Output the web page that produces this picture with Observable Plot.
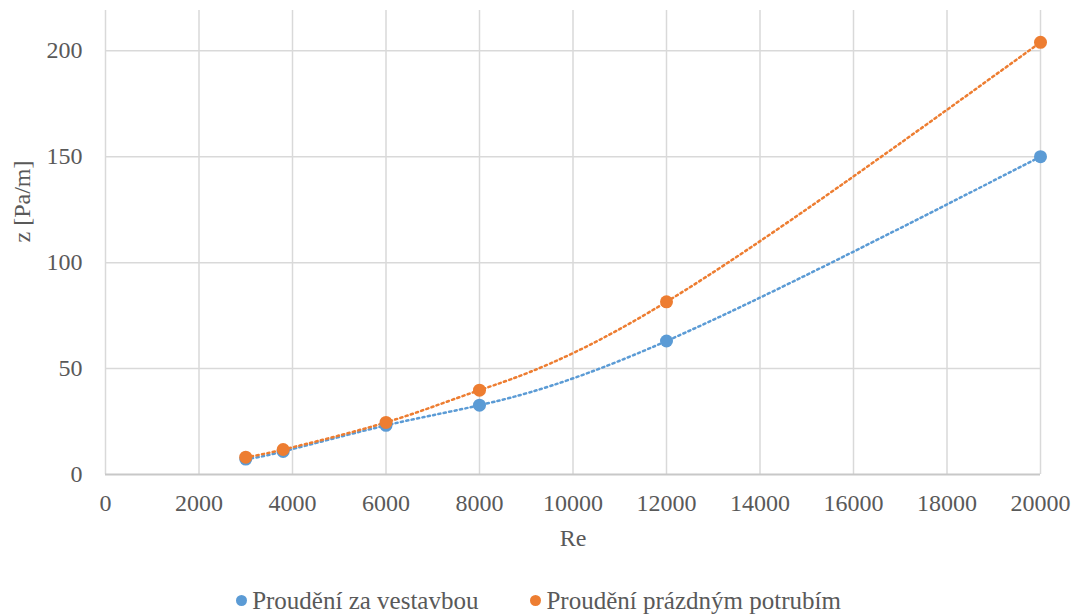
<!DOCTYPE html>
<html>
<head>
<meta charset="utf-8">
<script src="https://cdn.jsdelivr.net/npm/d3@7"></script>
<script src="https://cdn.jsdelivr.net/npm/@observablehq/plot@0.6"></script>
<style>
  html, body { margin: 0; padding: 0; background: #fff; }
  body { font-family: "Liberation Serif", "Times New Roman", serif; }
  #chart { width: 1077px; }
  #chart svg text { font-family: "Liberation Serif", "Times New Roman", serif; }
</style>
</head>
<body>
<div id="chart"></div>
<div id="legend" style="width:1077px;height:45px;display:flex;justify-content:center;align-items:center;gap:52px;font-family:'Liberation Serif';font-size:25px;color:#595959;"></div>
<script>
const re = [3000, 3800, 6000, 8000, 12000, 20000];
const zVestavba = [7.3, 10.9, 23.2, 32.7, 63, 150];
const zPrazdne = [8.2, 11.8, 24.6, 39.8, 81.5, 204];
const seriesNames = ["Proudění za vestavbou", "Proudění prázdným potrubím"];
const seriesColors = ["#5B9BD5", "#ED7D31"];
const xTicks = [0, 2000, 4000, 6000, 8000, 10000, 12000, 14000, 16000, 18000, 20000];
const yTicks = [0, 50, 100, 150, 200];

const data = [];
re.forEach((r, i) => {
  data.push({re: r, z: zVestavba[i], s: seriesNames[0]});
  data.push({re: r, z: zPrazdne[i], s: seriesNames[1]});
});

const serif = "Liberation Serif";
const txt = "#595959";
const plot = Plot.plot({
  width: 1077,
  height: 578,
  marginLeft: 105,
  marginRight: 37,
  marginTop: 10,
  marginBottom: 104,
  style: {fontFamily: serif, fontSize: "24px", color: txt, background: "#fff"},
  x: {domain: [0, 20000], ticks: xTicks, label: null},
  y: {domain: [0, 219], ticks: yTicks, label: null},
  color: {domain: seriesNames, range: seriesColors},
  marks: [
    Plot.gridX(xTicks, {stroke: "#d9d9d9", strokeOpacity: 1, strokeWidth: 1.5, y1: 0, y2: 219}),
    Plot.gridY(yTicks.slice(1), {stroke: "#d9d9d9", strokeOpacity: 1, strokeWidth: 1.5}),
    Plot.ruleY([0], {stroke: "#c8c8c8", strokeWidth: 2}),
    Plot.axisX(xTicks, {tickSize: 0, tickPadding: 19, tickFormat: d => String(d), fontSize: 24, fontFamily: serif, fill: txt}),
    Plot.axisY(yTicks, {tickSize: 0, tickPadding: 23, tickFormat: d => String(d), fontSize: 24, fontFamily: serif, fill: txt}),
    Plot.text(["Re"], {x: 10000, y: 0, dy: 64, fontSize: 24, fontFamily: serif, fill: txt, lineAnchor: "middle"}),
    Plot.text(["z [Pa/m]"], {frameAnchor: "left", dx: -83, rotate: -90, fontSize: 24, fontFamily: serif, fill: txt}),
    Plot.line(data, {x: "re", y: "z", z: "s", stroke: "s", curve: "natural", strokeWidth: 2.5, strokeDasharray: "2.2 3.3"}),
    Plot.dot(data, {x: "re", y: "z", fill: "s", r: 6.5})
  ]
});
document.getElementById("chart").appendChild(plot);

const legend = document.getElementById("legend");
seriesNames.forEach((n, i) => {
  const item = document.createElement("span");
  item.style.display = "inline-flex";
  item.style.alignItems = "center";
  const dot = document.createElement("span");
  dot.style.display = "inline-block";
  dot.style.width = "11px";
  dot.style.height = "11px";
  dot.style.borderRadius = "50%";
  dot.style.marginRight = "5px";
  dot.style.background = seriesColors[i];
  item.appendChild(dot);
  item.appendChild(document.createTextNode(n));
  legend.appendChild(item);
});
</script>
</body>
</html>
